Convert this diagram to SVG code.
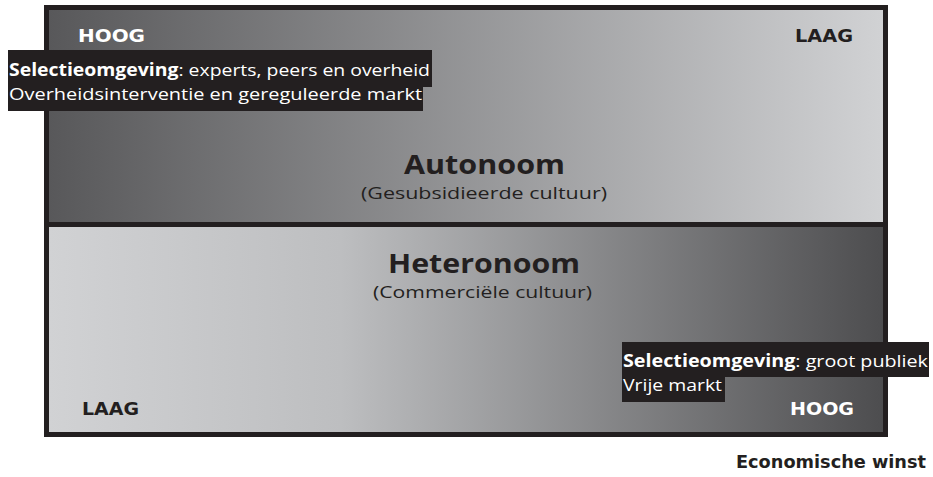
<svg xmlns="http://www.w3.org/2000/svg" width="933" height="477" viewBox="0 0 933 477">
<defs>
<linearGradient id="gTop" x1="0" y1="0" x2="1" y2="0">
<stop offset="0" stop-color="#58585a"/>
<stop offset="1" stop-color="#d1d2d4"/>
</linearGradient>
<linearGradient id="gBot" x1="0" y1="0" x2="1" y2="0">
<stop offset="0" stop-color="#d1d2d4"/>
<stop offset="0.35" stop-color="#bdbec0"/>
<stop offset="1" stop-color="#4d4d4f"/>
</linearGradient>
<style>
.scale{font-family:"DejaVu Sans",sans-serif;font-weight:bold;font-size:17px}
.title{font-family:"Open Sans","Noto Sans",sans-serif;font-weight:bold;font-size:26px;fill:#231f20}
.sub{font-family:"Open Sans","Noto Sans",sans-serif;font-size:16px;fill:#231f20}
.lab{font-family:"Open Sans","Noto Sans",sans-serif;font-size:17px;fill:#ffffff}
.lab .b{font-weight:bold}
.box{fill:#231f20}
.axis{font-family:"DejaVu Sans",sans-serif;font-weight:bold;font-size:18px;fill:#231f20}
</style>
</defs>
<rect x="44" y="5" width="844" height="432" fill="#231f20"/>
<g id="autonoom">
<rect x="49" y="10" width="834" height="212" fill="url(#gTop)"/>
<text class="scale" x="78" y="42" fill="#ffffff" textLength="67" lengthAdjust="spacingAndGlyphs">HOOG</text>
<text class="scale" x="795" y="42" fill="#231f20" textLength="58" lengthAdjust="spacingAndGlyphs">LAAG</text>
<text class="title" x="484.5" y="174" text-anchor="middle" textLength="161" lengthAdjust="spacingAndGlyphs">Autonoom</text>
<text class="sub" x="484" y="199" text-anchor="middle" textLength="246" lengthAdjust="spacingAndGlyphs">(Gesubsidieerde cultuur)</text>
</g>
<g id="heteronoom">
<rect x="49" y="227" width="834" height="205" fill="url(#gBot)"/>
<text class="scale" x="82" y="415" fill="#231f20" textLength="57" lengthAdjust="spacingAndGlyphs">LAAG</text>
<text class="scale" x="790" y="415" fill="#ffffff" textLength="64" lengthAdjust="spacingAndGlyphs">HOOG</text>
<text class="title" x="484" y="273" text-anchor="middle" textLength="192" lengthAdjust="spacingAndGlyphs">Heteronoom</text>
<text class="sub" x="482.5" y="298" text-anchor="middle" textLength="219" lengthAdjust="spacingAndGlyphs">(Commerciële cultuur)</text>
</g>
<g id="label-autonoom">
<path class="box" d="M8,50 H432 V87 H423 V111 H8 Z"/>
<text class="lab" x="9" y="76" textLength="421" lengthAdjust="spacingAndGlyphs"><tspan class="b">Selectieomgeving</tspan>: experts, peers en overheid</text>
<text class="lab" x="9" y="100" textLength="413" lengthAdjust="spacingAndGlyphs">Overheidsinterventie en gereguleerde markt</text>
</g>
<g id="label-heteronoom">
<path class="box" d="M622,342 H929 V377 H725 V402 H622 Z"/>
<text class="lab" x="623" y="367" textLength="305" lengthAdjust="spacingAndGlyphs"><tspan class="b">Selectieomgeving</tspan>: groot publiek</text>
<text class="lab" x="623" y="391" textLength="99" lengthAdjust="spacingAndGlyphs">Vrije markt</text>
</g>
<g id="axis-label">
<text class="axis" x="736" y="468" textLength="190" lengthAdjust="spacingAndGlyphs">Economische winst</text>
</g>
<g id="connectors"/>
</svg>
